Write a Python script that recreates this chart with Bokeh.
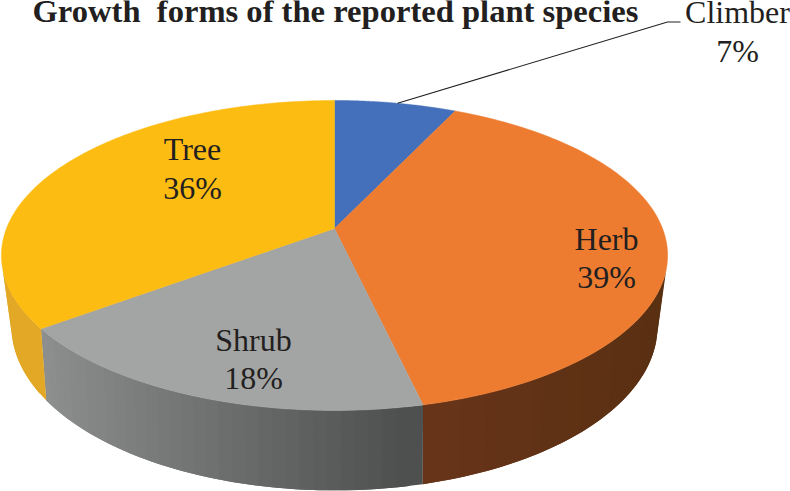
import numpy as np
from bokeh.plotting import figure
from bokeh.models import Range1d
from bokeh.core.properties import value
from bokeh.embed import file_html
from bokeh.resources import INLINE

title_text = "Growth\u00a0 forms of the reported plant species"
categories = ["Climber", "Herb", "Shrub", "Tree"]
shares = [7.0, 39.4, 18.4, 35.2]
percent_labels = ["7%", "39%", "18%", "36%"]

top_colors = ["#4470bb", "#ed7c30", "#a3a5a4", "#fdbc12"]
wall_left = ["#3a5f9e", "#69351a", "#8f9090", "#e2a826"]
wall_right = ["#3a5f9e", "#5a3012", "#4e5050", "#e2a826"]
label_xy = {"Climber": (737, 11, 50), "Herb": (606, 238, 276), "Shrub": (253, 339, 377), "Tree": (192, 148, 187)}

W, H = 790, 491
CX = 334.0


def top_rim(t):
    w = 1 + 0.174 * np.cos(t)
    return CX + 328 * np.sin(t) / w, 228 - 150.3 * np.cos(t) / w


def low_rim(t):
    w = 1 + 0.2 * np.cos(t)
    return CX + 316.5 * np.sin(t) / w, 293 - 157.5 * np.cos(t) / w


def hex_rgb(h):
    return np.array([int(h[i:i + 2], 16) for i in (1, 3, 5)], float)


def mix(a, b, f):
    c = hex_rgb(a) * (1 - f) + hex_rgb(b) * f
    return "#%02x%02x%02x" % tuple(int(round(v)) for v in c)


edges = np.concatenate([[0], np.cumsum(shares)]) / np.sum(shares) * 2 * np.pi

p = figure(width=W, height=H, x_range=Range1d(0, W), y_range=Range1d(H, 0),
           toolbar_location=None, output_backend="svg", min_border=0,
           x_axis_type=None, y_axis_type=None, outline_line_color=None)
p.grid.visible = False

# side wall: overlapping strips, each painted over the previous one's overlap
wx, wy, wc = [], [], []
for i in range(len(shares)):
    a0, a1 = max(edges[i], np.radians(105)), min(edges[i + 1], np.radians(255))
    if a1 <= a0:
        continue
    n = max(2, int(np.degrees(a1 - a0) / 2))
    ts = np.linspace(a0, a1, n + 1)
    x_lo, x_hi = top_rim(a1)[0], top_rim(a0)[0]
    for k in range(n - 1, -1, -1):
        # paint from the far end of the slice back to its start, so every strip overlaps the next
        t0, t1 = ts[k], ts[min(k + 2, n)]
        mid = np.linspace(t0, t1, 4)
        mtx, mty = top_rim(mid)
        mlx, mly = low_rim(mid)
        wx.append(np.concatenate([mtx, mlx[::-1]]))
        wy.append(np.concatenate([mty, mly[::-1]]))
        f = (top_rim(ts[k])[0] - x_lo) / (x_hi - x_lo + 1e-6)
        wc.append(mix(wall_left[i], wall_right[i], float(np.clip(f, 0, 1))))
p.patches(wx, wy, fill_color=wc, line_color=None)

# top surface
for i in range(len(shares)):
    ts = np.linspace(edges[i], edges[i + 1], 120)
    rx, ry = top_rim(ts)
    p.patch(np.concatenate([[CX], rx]), np.concatenate([[228.0], ry]),
            fill_color=top_colors[i], line_color=top_colors[i], line_width=0.5)

# leader line of the outside label
lx, ly = top_rim(np.radians(13))
p.line([lx, 667, 680], [ly, 21.5, 21.5], line_color="#231f20", line_width=1.1)

serif = value("Liberation Serif")
for name, pct in zip(categories, percent_labels):
    x, y1, y2 = label_xy[name]
    p.text([x], [y1], text=[name], text_font=serif, text_font_size="32px",
           text_align="center", text_baseline="middle", text_color="#231f20")
    p.text([x], [y2], text=[pct], text_font=serif, text_font_size="32px",
           text_align="center", text_baseline="middle", text_color="#231f20")

p.text([32], [10], text=[title_text], text_font=serif, text_font_size="32.6px",
       text_font_style="bold", text_align="left", text_baseline="middle", text_color="#231f20")

open("out.html", "w").write(file_html(p, INLINE))
